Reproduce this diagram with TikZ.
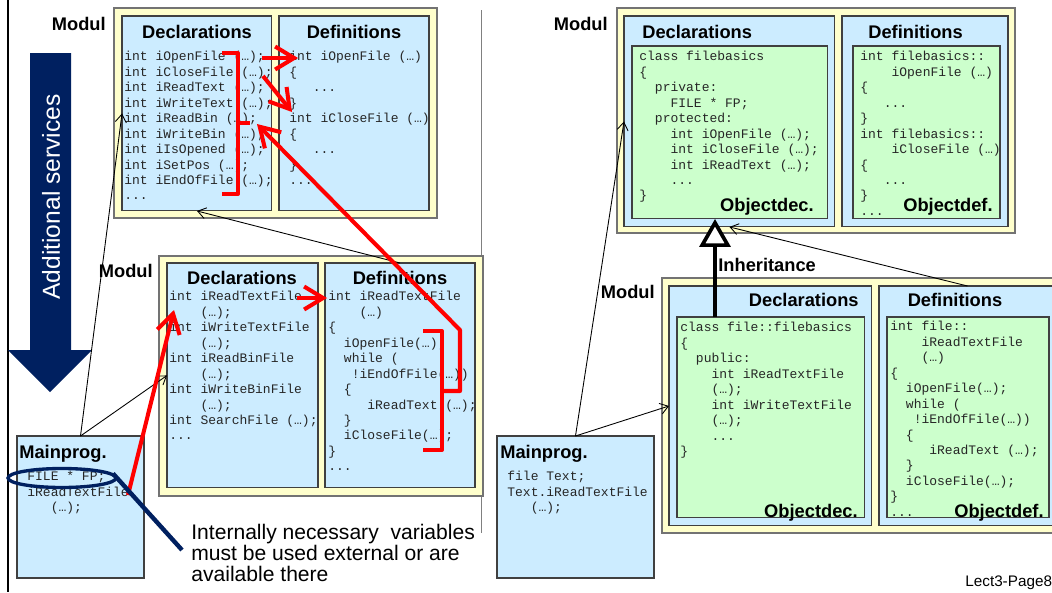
\documentclass[tikz,border=0pt]{standalone}
\usepackage{fontspec}
\setmainfont{Liberation Sans}
\setmonofont{Liberation Mono}
\usetikzlibrary{shapes.geometric, arrows.meta, positioning}
\definecolor{modyellow}{RGB}{255,255,204}
\definecolor{declblue}{RGB}{204,236,255}
\definecolor{objgreen}{RGB}{204,255,204}
\definecolor{servnavy}{RGB}{0,32,96}
\definecolor{markred}{RGB}{255,0,0}
\newlength{\chw}\setlength{\chw}{4.44pt}
\newcommand{\cind}[1]{\hspace*{#1\chw}}

\begin{document}
\begin{tikzpicture}[x=0.02cm, y=-0.02cm,
    modul/.style={rectangle, draw=black!55, fill=modyellow, line width=0.8pt,
                  inner sep=0, outer sep=0, anchor=north west},
    part/.style={rectangle, draw=black!75, fill=declblue, line width=0.6pt,
                 inner sep=0, outer sep=0, anchor=north west},
    obj/.style={rectangle, draw=black!75, fill=objgreen, line width=0.6pt,
                inner sep=0, outer sep=0, anchor=north west},
    listing/.style={anchor=north west, align=left, inner sep=0, text=black!85,
                    font=\ttfamily\fontsize{7.4}{8.8}\selectfont,
                    execute at begin node=\strut},
    head/.style={font=\fontsize{10.4}{12}\selectfont\bfseries, inner sep=0},
    note/.style={font=\fontsize{12}{12.2}\selectfont, align=left, inner sep=0},
    link/.style={-{Straight Barb[length=1.6mm,width=2.2mm]}, line width=0.5pt},
    hint/.style={-{Straight Barb[length=3.8mm,width=4.6mm]}, line width=2.3pt,
                 draw=markred, line join=round},
    brack/.style={line width=2.3pt, draw=markred, line join=round},
    inherit/.style={-{Triangle[open, fill=white, length=5.6mm, width=6.2mm]},
                    line width=2.1pt}
]
\useasboundingbox (0,0) rectangle (1052,592);

% frame lines
\draw[line width=1.2pt] (8,0) -- (8,592);
\draw[black!50, line width=0.6pt] (481.5,10) -- (481.5,533);

% additional services arrow
\fill[servnavy] (30,53) -- (71,53) -- (71,350) -- (92,350) -- (50,392)
    -- (8,350) -- (30,350) -- cycle;
\node[rotate=90, text=white, font=\fontsize{14}{16}\selectfont] (servT) at (51,197) {Additional services};

% modular programming: top module
\node[modul, minimum width=6.46cm, minimum height=4.2cm] (topmod) at (114,8) {};
\node[part, minimum width=3cm, minimum height=3.9cm] (topdecl) at (122,16) {};
\node[part, minimum width=3cm, minimum height=3.9cm] (topdef) at (279,16) {};
\node[head, anchor=east] (topmodT) at (106,24) {Modul};
\node[head] (topdeclT) at (197,32) {Declarations};
\node[head] (topdefT) at (354,32) {Definitions};
\node[listing] (topdeclC) at (124,51) {int iOpenFile (…);\\int iCloseFile (…);\\int iReadText (…);\\int iWriteText (…);\\int iReadBin (…);\\int iWriteBin (…);\\int iIsOpened (…);\\int iSetPos (…);\\int iEndOfFile (…);\\...};
\node[listing] (topdefC) at (289,51) {int iOpenFile (…)\\\{\\\cind{3}...\\\}\\int iCloseFile (…)\\\{\\\cind{3}...\\\}\\...};

% modular programming: lower module
\node[modul, minimum width=6.48cm, minimum height=4.8cm] (midmod) at (159,256) {};
\node[part, minimum width=3.02cm, minimum height=4.5cm] (middecl) at (167,263) {};
\node[part, minimum width=3cm, minimum height=4.5cm] (middef) at (325,263) {};
\node[head, anchor=east] (midmodT) at (153,271) {Modul};
\node[head] (middeclT) at (242,278) {Declarations};
\node[head] (middefT) at (400,278) {Definitions};
\node[listing] (middeclC) at (169,291) {int iReadTextFile\\\cind{4}(…);\\int iWriteTextFile\\\cind{4}(…);\\int iReadBinFile\\\cind{4}(…);\\int iWriteBinFile\\\cind{4}(…);\\int SearchFile (…);\\...};
\node[listing] (middefC) at (328,291) {int iReadTextFile\\\cind{4}(…)\\\{\\\cind{2}iOpenFile(…);\\\cind{2}while (\\\cind{3}!iEndOfFile(…))\\\cind{2}\{\\\cind{5}iReadText (…);\\\cind{2}\}\\\cind{2}iCloseFile(…);\\\}\\...};

% modular programming: main program
\node[part, minimum width=2.54cm, minimum height=2.84cm] (fmain) at (17,436) {};
\node[head, anchor=base west] (fmainT) at (19,458.5) {Mainprog.};
\node[listing] (fmainC) at (27,471) {FILE * FP;\\iReadTextFile\\\cind{3}(…);};

% object oriented: top module
\node[modul, minimum width=7.96cm, minimum height=4.5cm] (objmod) at (617,8) {};
\node[part, minimum width=4.22cm, minimum height=4.22cm] (objdecl) at (624,16) {};
\node[part, minimum width=3.32cm, minimum height=4.22cm] (objdef) at (842,16) {};
\node[obj, minimum width=3.92cm, minimum height=3.46cm] (objdecG) at (632,46) {};
\node[obj, minimum width=2.94cm, minimum height=3.46cm] (objdefG) at (853,46) {};
\node[head, anchor=east] (objmodT) at (608,24) {Modul};
\node[head, anchor=west] (objdeclT) at (642,32) {Declarations};
\node[head, anchor=west] (objdefT) at (868,32) {Definitions};
\node[listing] (objdecC) at (639,51) {class filebasics\\\{\\\cind{2}private:\\\cind{4}FILE * FP;\\\cind{2}protected:\\\cind{4}int iOpenFile (…);\\\cind{4}int iCloseFile (…);\\\cind{4}int iReadText (…);\\\cind{4}...\\\}};
\node[listing] (objdefC) at (860,51) {int filebasics::\\\cind{4}iOpenFile (…)\\\{\\\cind{3}...\\\}\\int filebasics::\\\cind{4}iCloseFile (…)\\\{\\\cind{3}...\\\}\\...};
\node[head, anchor=base east] (objdecL) at (814,211.5) {Objectdec.};
\node[head, anchor=base east] (objdefL) at (993,211.5) {Objectdef.};

% object oriented: lower module
\node[modul, minimum width=8.1cm, minimum height=5.1cm] (filemod) at (662,278) {};
\node[part, minimum width=4.06cm, minimum height=4.8cm] (filedecl) at (669,286) {};
\node[part, minimum width=3.54cm, minimum height=4.8cm] (filedef) at (879,286) {};
\node[obj, minimum width=3.76cm, minimum height=4.02cm] (filedecG) at (677,317) {};
\node[obj, minimum width=3.24cm, minimum height=4.02cm] (filedefG) at (887,317) {};
\node[head, anchor=east] (filemodT) at (655,292) {Modul};
\node[head, anchor=east] (filedeclT) at (859,300) {Declarations};
\node[head] (filedefT) at (955,300) {Definitions};
\node[listing] (filedecC) at (680,322) {class file::filebasics\\\{\\\cind{2}public:\\\cind{4}int iReadTextFile\\\cind{4}(…);\\\cind{4}int iWriteTextFile\\\cind{4}(…);\\\cind{4}...\\\}};
\node[listing] (filedefC) at (890,321) {int file::\\\cind{4}iReadTextFile\\\cind{4}(…)\\\{\\\cind{2}iOpenFile(…);\\\cind{2}while (\\\cind{3}!iEndOfFile(…))\\\cind{2}\{\\\cind{5}iReadText (…);\\\cind{2}\}\\\cind{2}iCloseFile(…);\\\}\\...};
\node[head, anchor=base east] (filedecL) at (858,517.5) {Objectdec.};
\node[head, anchor=base east] (filedefL) at (1044,517.5) {Objectdef.};

% object oriented: main program
\node[part, minimum width=3.14cm, minimum height=2.84cm] (omain) at (497,436) {};
\node[head, anchor=base west] (omainT) at (500,458.5) {Mainprog.};
\node[listing] (omainC) at (507,471) {file Text;\\Text.iReadTextFile\\\cind{3}(…);};

% inheritance
\draw[inherit] (filedecG.north west) ++(38,0) coordinate (inhfoot) -- (inhfoot |- objdecG.south);
\node[head, anchor=west] (inhT) at (718,265) {Inheritance};

% uses
\draw[link] (fmain.north) -- (topdecl.west);
\draw[link] (fmain.north) -- (middecl.west);
\draw[link] (middef.north) -- (topdecl.south);
\draw[link] (omain.north) -- (objdecl.west);
\draw[link] (omain.north) -- (filedecl.west);
\draw[link] (filedef.north) -- (objdecl.south);

% red marks
\coordinate (openA) at (262,58);   \coordinate (openB) at (298,58);
\coordinate (closeA) at (263,76);  \coordinate (closeB) at (292,112);
\coordinate (readA) at (297,298);  \coordinate (readB) at (327,298);
\coordinate (callA) at (128,495);  \coordinate (callB) at (174,310);
\coordinate (groupTip) at (257,124);
\draw[brack] (222,53) -- (238,53) -- (238,194) -- (222,194);
\draw[brack] (238,123) -- (250,123);
\draw[brack] (423,331) -- (442,331) -- (442,450) -- (423,450);
\draw[hint] (openA) -- (openB);
\draw[hint] (closeA) -- (closeB);
\draw[hint] (readA) -- (readB);
\draw[hint] (callA) -- (callB);
\draw[hint] (442,391) -- (460,391) -- (460,330) -- (groupTip);

% callout
\node[ellipse, draw=servnavy, line width=1.9pt, minimum width=2.16cm,
      minimum height=0.38cm, inner sep=0] (fpmark) at (62,478) {};
\coordinate (notetip) at (182,550);
\draw[servnavy, line width=2.5pt] (fpmark.5) -- (notetip);
\node[note, anchor=west] (noteT) at (191,553) {Internally necessary\ \ variables\\must be used external or are\\available there};

\node[anchor=west, inner sep=0, font=\fontsize{8.7}{10}\selectfont] (pageno) at (965,583) {Lect3-Page8};
\end{tikzpicture}
\end{document}
